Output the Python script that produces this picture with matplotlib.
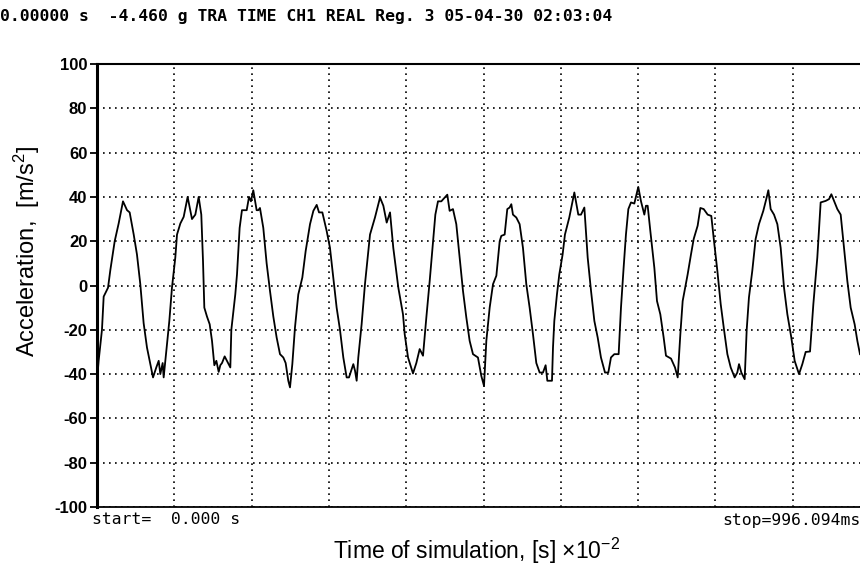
import numpy as np
import matplotlib
matplotlib.use('Agg')
import matplotlib.pyplot as plt

#fonts
plt.rcParams['font.family'] = ['Liberation Sans', 'DejaVu Sans']
plt.rcParams['mathtext.fontset'] = 'custom'
plt.rcParams['mathtext.rm'] = 'Liberation Sans'
plt.rcParams['mathtext.default'] = 'regular'

#recorded signal, time in 10^-2 s, acceleration in m/s^2
t_stop = 99.6094
time = [
    0.00, 0.21, 0.64, 0.86, 1.42, 1.72, 2.28, 2.79, 3.35, 3.87, 4.21, 4.73,
    5.15, 5.58, 6.01, 6.44, 7.22, 7.64, 7.95, 8.16, 8.46, 8.59, 8.89, 9.32,
    9.66, 10.09, 10.31, 10.74, 11.17, 11.68, 12.24, 12.67, 13.10, 13.44,
    13.66, 13.83, 14.17, 14.52, 14.82, 15.12, 15.38, 15.68, 15.89, 16.11,
    16.45, 16.88, 17.18, 17.31, 17.82, 18.04, 18.38, 18.68, 19.29, 19.59,
    19.84, 20.14, 20.57, 20.79, 21.00, 21.43, 21.86, 22.29, 22.72, 23.15,
    23.58, 24.01, 24.31, 24.65, 24.87, 25.17, 25.51, 25.94, 26.46, 26.89,
    27.45, 27.88, 28.31, 28.61, 29.04, 29.59, 30.02, 30.45, 30.88, 31.31,
    31.74, 32.17, 32.47, 33.03, 33.25, 33.46, 33.67, 34.10, 34.53, 35.18,
    35.82, 36.47, 36.90, 37.33, 37.76, 38.18, 38.83, 39.43, 39.65, 40.08,
    40.72, 41.15, 41.58, 42.01, 42.44, 42.87, 43.30, 43.60, 43.94, 44.37,
    44.80, 45.14, 45.44, 45.87, 46.30, 46.73, 47.16, 47.59, 48.02, 48.45,
    49.09, 49.52, 49.87, 50.17, 50.60, 51.03, 51.46, 51.89, 52.10, 52.53,
    52.87, 53.17, 53.39, 53.60, 54.03, 54.46, 54.89, 55.32, 55.75, 56.18,
    56.61, 57.04, 57.47, 57.81, 58.03, 58.63, 58.76, 58.93, 59.27, 59.57,
    60.00, 60.30, 60.86, 61.51, 62.02, 62.37, 62.80, 63.23, 63.66, 64.09,
    64.52, 64.94, 65.46, 65.89, 66.23, 66.66, 67.22, 67.52, 67.86, 68.16,
    68.47, 68.81, 69.24, 69.75, 70.10, 70.53, 70.74, 70.96, 71.30, 71.82,
    72.16, 72.59, 73.02, 73.32, 73.97, 74.48, 74.83, 75.17, 75.47, 76.11,
    76.54, 76.89, 77.40, 77.75, 78.18, 78.69, 79.16, 79.51, 79.94, 80.37,
    80.80, 81.23, 81.66, 82.17, 82.51, 82.73, 83.03, 83.46, 83.72, 84.01,
    84.44, 84.87, 85.30, 85.86, 86.29, 86.51, 86.81, 87.24, 87.67, 88.10,
    88.53, 88.96, 89.47, 89.90, 90.46, 90.89, 91.32, 91.88, 92.31, 92.82,
    93.25, 93.90, 94.33, 94.63, 94.97, 95.40, 95.83, 96.26, 96.69, 97.12,
    97.63, 97.98, 98.32,
]
accel = [
    -43, -34, -20, -5, -1, 7, 20, 28, 38, 34, 33, 23,
    14, 0.6, -17, -28, -41.5, -37, -34, -40, -35, -41.5, -31, -16,
    -1, 12.6, 23, 28, 31, 40, 30, 32, 40, 32,
    11, -10, -14, -17.5, -25, -36, -34, -39, -36, -35,
    -32, -35, -37, -20, -4, 5, 26, 34, 34, 40,
    38, 43, 34, 34, 35, 26, 10, -2.4, -14, -23.5,
    -31, -32.5, -35, -43, -46, -35.5, -19, -4, 3.6, 15.6,
    27.7, 33.7, 36.4, 33, 33, 24.7, 17, 3.6, -10, -20,
    -32.5, -41.5, -41.5, -35.5, -38.5, -43, -32.5, -17.5, 0.6, 23,
    30.7, 39.7, 36, 28.4, 33, 17, -1, -13, -22, -32.5,
    -39.7, -35, -28.7, -31.7, -14.4, 2, 20, 32, 38, 38,
    39.7, 41, 33.7, 34.5, 27.7, 12.6, -2.4, -14.4, -25, -31,
    -32.5, -40.8, -45.3, -25, -10, 0.6, 4.4, 20, 22.4, 23,
    34.5, 35.2, 36.7, 32, 30.7, 27.7, 17, 0.6, -10, -22,
    -35, -39.3, -39.3, -36, -43, -43, -28, -16, -4, 5,
    14, 23, 30.7, 42, 32, 32, 35.2, 12.6, -2.4, -16,
    -23.5, -32.5, -39.3, -39.3, -32.5, -31, -31, -10, 8, 23,
    34.5, 37.5, 37, 44.5, 38, 32, 36, 36, 24.7, 8,
    -7, -13, -23.5, -31.7, -33, -37, -41.5, -22, -7, 5,
    14, 21, 27, 35, 34.5, 32, 31.4, 20, 6.6, -8.4,
    -20, -31, -37, -41.5, -39.3, -35.5, -39.3, -42.3, -20, -5.4,
    6.6, 21, 27.7, 33.7, 39.7, 43, 34.5, 32, 27.7, 17,
    -1, -13, -23.5, -34, -40, -35.5, -30, -29.8, -8.4, 12.6,
    37.5, 38.2, 39, 41.2, 38.2, 34.5, 32, 17, 2, -10,
    -17.5, -25, -31,
]
y_ticks = list(range(-100, 101, 20))
header = '0.00000 s  -4.460 g TRA TIME CH1 REAL Reg. 3 05-04-30 02:03:04'
start_txt = 'start=  0.000 s'
stop_txt = 'stop=996.094ms'

fig = plt.figure(figsize=(8.6, 5.67), dpi=100)
#axes runs past the right edge like the scanned plot
ax = fig.add_axes([97 / 860, 60 / 567, 773 / 860, 443 / 567])

ax.plot(time, accel, color='black', linewidth=1.3)

ax.set_xlim(0, t_stop)
ax.set_ylim(-100, 100)
ax.set_xticks(np.linspace(0, t_stop, 11))
ax.set_xticklabels([])
ax.tick_params(axis='x', length=0)
ax.set_yticks(y_ticks)
ax.set_yticklabels([str(v) for v in y_ticks], fontsize=12, fontweight='bold')
ax.tick_params(axis='y', length=5, width=1.3, pad=2)

ax.grid(True, color='black', linewidth=1.2, linestyle=(0, (1, 2.6)))

ax.spines['left'].set_linewidth(2.2)
ax.spines['top'].set_linewidth(1.5)
ax.spines['bottom'].set_linewidth(1.3)
ax.spines['right'].set_visible(False)

mono = ['DejaVu Sans Mono']
fig.text(0 / 860, 1 - 17 / 567, header, family=mono, fontsize=11.8,
         fontweight='bold', va='center', ha='left')
fig.text(92 / 860, 1 - 520 / 567, start_txt, family=mono, fontsize=11.8,
         va='center', ha='left')
fig.text(860 / 860, 1 - 520 / 567, stop_txt, family=mono, fontsize=11.8,
         va='center', ha='right')

fig.text(477 / 860, 1 - 559 / 567, r'Time of simulation, [s] ×10$^{-2}$',
         fontsize=16.5, ha='center', va='baseline')
fig.text(42 / 860, 1 - 251 / 567, r'Acceleration,  [m/s$^{2}$]',
         fontsize=17, rotation=90, ha='right', va='center')

fig.savefig('out.png', dpi=100)
